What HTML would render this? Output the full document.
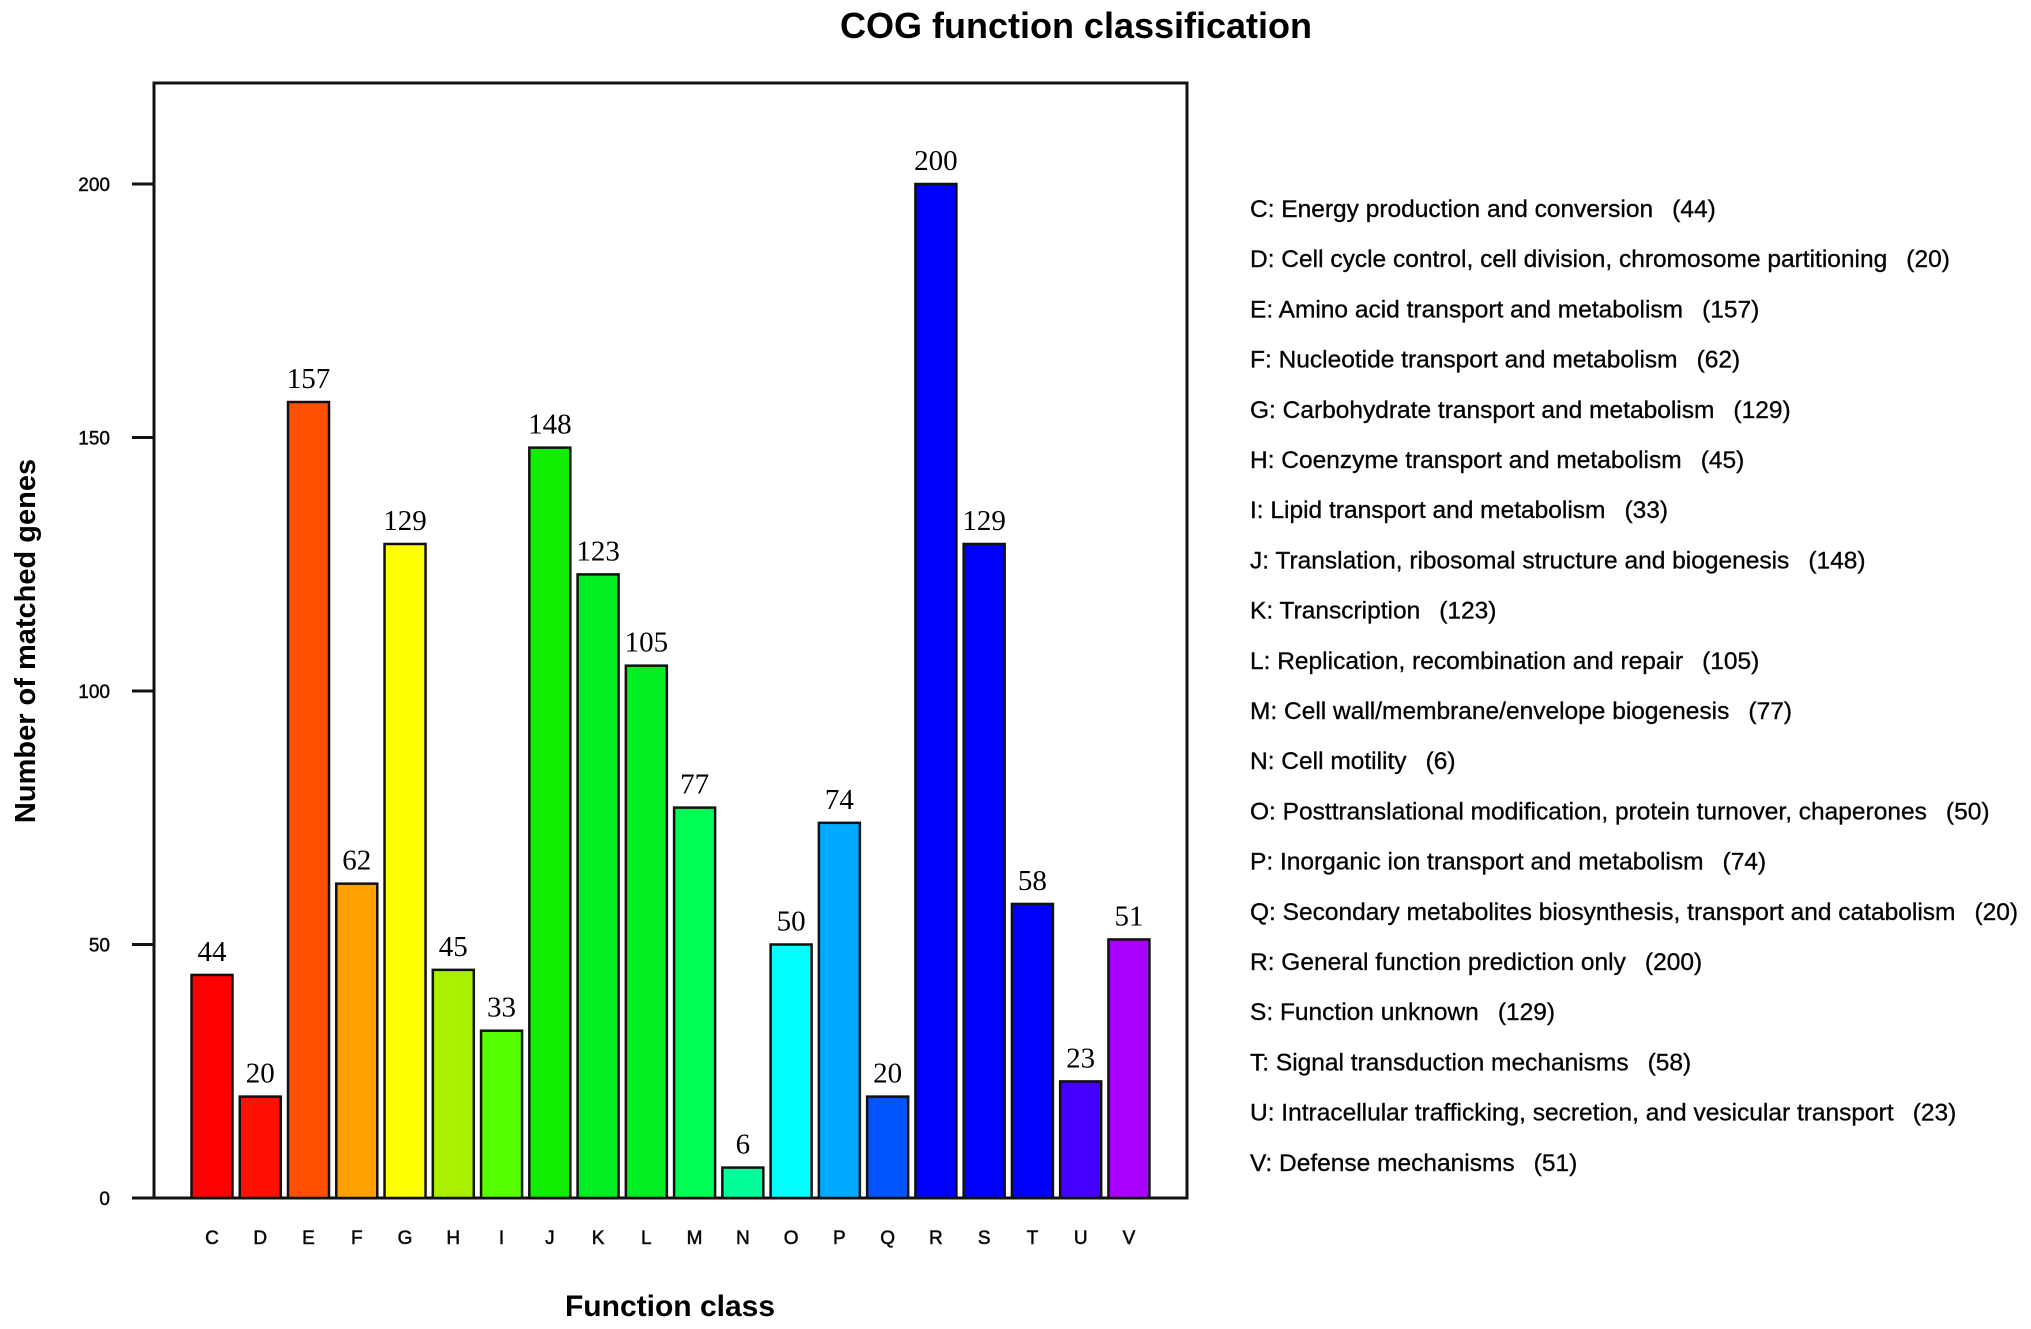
<!DOCTYPE html>
<html><head><meta charset="utf-8"><style>
html,body{margin:0;padding:0;background:#fff;}
svg{display:block;}
</style></head><body>
<svg id="chart" width="2031" height="1329" xmlns="http://www.w3.org/2000/svg">
<text x="1076" y="38" text-anchor="middle" font-family="Liberation Sans, sans-serif" font-weight="bold" font-size="36">COG function classification</text>
<rect x="154" y="83" width="1033" height="1115" fill="none" stroke="#111" stroke-width="3"/>
<text transform="translate(35,641) rotate(-90)" text-anchor="middle" font-family="Liberation Sans, sans-serif" font-weight="bold" font-size="29">Number of matched genes</text>
<text x="670" y="1316" text-anchor="middle" font-family="Liberation Sans, sans-serif" font-weight="bold" font-size="30">Function class</text>
<g id="bars"></g><g id="yaxis"></g><g id="legend"></g>
</svg>
<script>
const categories = ["C","D","E","F","G","H","I","J","K","L","M","N","O","P","Q","R","S","T","U","V"];
const values = [44,20,157,62,129,45,33,148,123,105,77,6,50,74,20,200,129,58,23,51];
const colors = ["#ff0000","#ff1000","#ff5000","#ffa000","#ffff00","#a8f000","#55ff00","#11ee00","#00ee22","#00ee22","#00ff55","#00ff99","#00ffff","#00aaff","#0055ff","#0000ff","#0000ff","#0000ff","#4400ff","#aa00ff"];
const descriptions = ["Energy production and conversion","Cell cycle control, cell division, chromosome partitioning","Amino acid transport and metabolism","Nucleotide transport and metabolism","Carbohydrate transport and metabolism","Coenzyme transport and metabolism","Lipid transport and metabolism","Translation, ribosomal structure and biogenesis","Transcription","Replication, recombination and repair","Cell wall/membrane/envelope biogenesis","Cell motility","Posttranslational modification, protein turnover, chaperones","Inorganic ion transport and metabolism","Secondary metabolites biosynthesis, transport and catabolism","General function prediction only","Function unknown","Signal transduction mechanisms","Intracellular trafficking, secretion, and vesicular transport","Defense mechanisms"];
const yTicks = [0,50,100,150,200];

const NS="http://www.w3.org/2000/svg";
const y0=1198, yScale=(1198-184)/200;
const yPos=v=>y0-v*yScale;
const xPos=i=>212+i*48.26;
const bw=41;
function mk(tag,attrs,parent){const e=document.createElementNS(NS,tag);for(const k in attrs)e.setAttribute(k,attrs[k]);parent.appendChild(e);return e;}
const bars=document.getElementById('bars');
categories.forEach((c,i)=>{
  const v=values[i];
  const r=mk('rect',{x:xPos(i)-bw/2,y:yPos(v),width:bw,height:y0-yPos(v),fill:colors[i],stroke:'#111','stroke-width':2.5},bars);
  
  
  const t=mk('text',{x:xPos(i),y:yPos(v)-14,'text-anchor':'middle','font-family':'Liberation Serif, serif','font-size':29},bars);
  t.textContent=v;
  
  
  const xl=mk('text',{x:xPos(i),y:1244,'text-anchor':'middle','font-family':'Liberation Sans, sans-serif','font-size':19,'stroke':'#222','stroke-width':0.6},bars);
  xl.textContent=c;
  
  
});
const ya=document.getElementById('yaxis');
yTicks.forEach(v=>{
  const l=mk('line',{x1:132,x2:154,y1:yPos(v),y2:yPos(v),stroke:'#111','stroke-width':3},ya);
  
  
  const t=mk('text',{x:110,y:yPos(v)+7,'text-anchor':'end','font-family':'Liberation Sans, sans-serif','font-size':19,'stroke':'#222','stroke-width':0.5},ya);
  t.textContent=v;
  
  
});
const lg=document.getElementById('legend');
categories.forEach((c,i)=>{
  const t=mk('text',{x:1250,y:217+i*50.2,'font-family':'Liberation Sans, sans-serif','font-size':24.5,'stroke':'#222','stroke-width':0.4},lg);
  t.textContent=c+': '+descriptions[i]+'\u2002 ('+values[i]+')';
  
  
});
</script>
</body></html>
